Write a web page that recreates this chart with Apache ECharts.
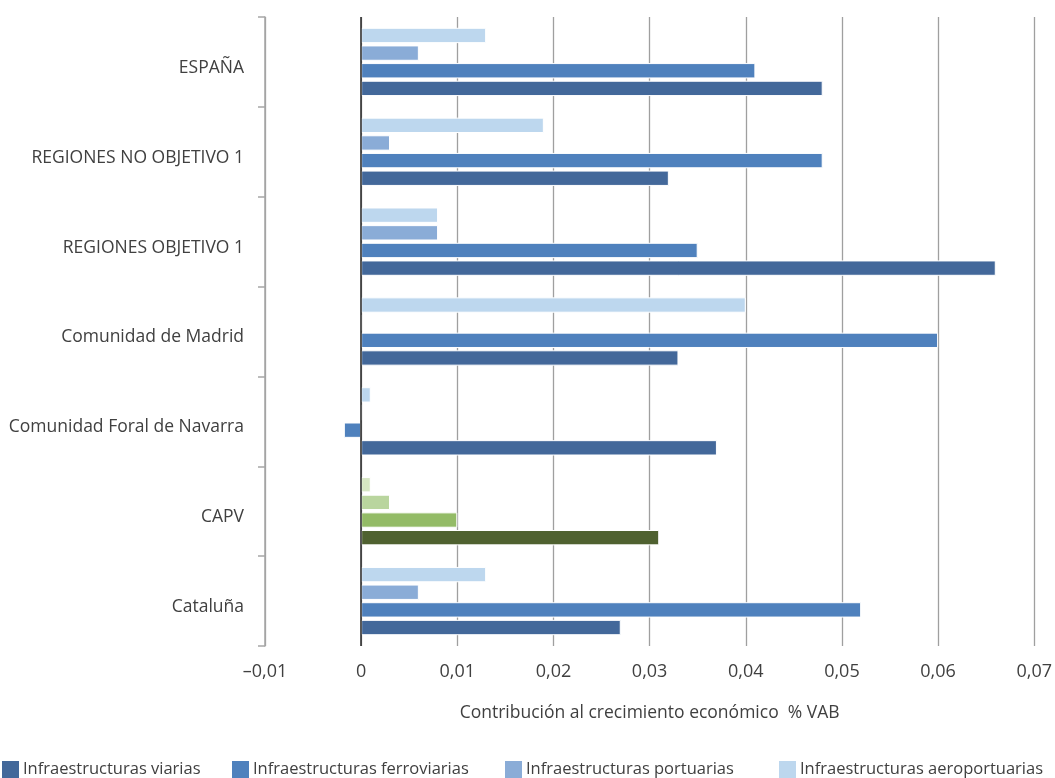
<!DOCTYPE html>
<html>
<head>
<meta charset="utf-8">
<script src="https://cdn.jsdelivr.net/npm/echarts@6/dist/echarts.min.js"></script>
<style>
  html, body { margin: 0; padding: 0; background: #fff; }
  #chart { width: 1055px; height: 778px; }
</style>
</head>
<body>
<div id="chart"></div>
<script>
// Regions, top to bottom
var categories = ['ESPAÑA', 'REGIONES NO OBJETIVO 1', 'REGIONES OBJETIVO 1',
  'Comunidad de Madrid', 'Comunidad Foral de Navarra', 'CAPV', 'Cataluña'];

// Contribution to growth (% VAB) by infrastructure type
var viarias        = [0.048, 0.032, 0.066, 0.033, 0.037, 0.031, 0.027];
var ferroviarias   = [0.041, 0.048, 0.035, 0.060, -0.0018, 0.010, 0.052];
var portuarias     = [0.006, 0.003, 0.008, 0, 0, 0.003, 0.006];
var aeroportuarias = [0.013, 0.019, 0.008, 0.040, 0.001, 0.001, 0.013];

var seriesNames = ['Infraestructuras viarias', 'Infraestructuras ferroviarias',
  'Infraestructuras portuarias', 'Infraestructuras aeroportuarias'];

var xTickLabels = ['–0,01', '0', '0,01', '0,02', '0,03', '0,04', '0,05', '0,06', '0,07'];
var xMin = -0.01, xMax = 0.07, xStep = 0.01;

var blues  = ['#43689a', '#4f81bd', '#8aacd7', '#bdd7ee'];
var greens = ['#4f6130', '#93bb66', '#b9d59e', '#d6e6c3'];
var highlightRegion = 'CAPV';

var FONT = 'Open Sans';
var TEXT = '#404040';

function buildData(values, idx) {
  return values.map(function (v, i) {
    if (categories[i] === highlightRegion) {
      return { value: v, itemStyle: { color: greens[idx] } };
    }
    return v;
  });
}

var valueSets = [viarias, ferroviarias, portuarias, aeroportuarias];
var series = valueSets.map(function (vals, idx) {
  return {
    name: seriesNames[idx],
    type: 'bar',
    data: buildData(vals, idx),
    itemStyle: { color: blues[idx], borderColor: '#ffffff', borderWidth: 1 },
    barGap: '15%',
    barCategoryGap: '24%'
  };
});
// bars stack top-down in series order, so aeroportuarias goes first (top row)
series.reverse();
series[0].markLine = {
  silent: true,
  symbol: 'none',
  label: { show: false },
  lineStyle: { color: '#262626', width: 1.5, type: 'solid' },
  data: [{ xAxis: 0 }],
  z: 5
};

var legendLeft = [0, 230, 503, 777];
var legends = seriesNames.map(function (n, i) {
  return {
    data: [n],
    left: legendLeft[i],
    top: 759,
    padding: 0,
    icon: 'rect',
    itemWidth: 19,
    itemHeight: 19,
    textStyle: { fontFamily: FONT, fontSize: 16.5, color: TEXT, padding: [0, 0, 0, -2] }
  };
});

var chart = echarts.init(document.getElementById('chart'));
chart.setOption({
  animation: false,
  backgroundColor: '#ffffff',
  grid: { left: 265, right: 17, top: 17, bottom: 132, containLabel: false },
  legend: legends,
  xAxis: {
    type: 'value',
    min: xMin,
    max: xMax,
    interval: xStep,
    axisLine: { show: false },
    axisTick: { show: false },
    splitLine: { show: true, lineStyle: { color: '#9f9f9f', width: 1.3 } },
    axisLabel: {
      margin: 17,
      fontFamily: FONT,
      fontSize: 18,
      color: TEXT,
      formatter: function (v) {
        return xTickLabels[Math.round((v - xMin) / xStep)];
      }
    },
    name: 'Contribución al crecimiento económico  % VAB',
    nameLocation: 'middle',
    nameGap: 58,
    nameTextStyle: { fontFamily: FONT, fontSize: 17.5, color: TEXT }
  },
  yAxis: {
    type: 'category',
    data: categories,
    inverse: true,
    axisLine: { show: true, onZero: false, lineStyle: { color: '#a6a6a6', width: 1.5 } },
    axisTick: { show: true, length: 7, lineStyle: { color: '#a6a6a6', width: 1.5 } },
    axisLabel: {
      margin: 21,
      formatter: function (v) { return '{c|' + v + '}'; },
      rich: {
        c: { fontFamily: FONT, fontSize: 17.5, color: TEXT, padding: [12, 0, 0, 0] }
      }
    },
    splitLine: { show: false }
  },
  series: series
});
</script>
</body>
</html>
